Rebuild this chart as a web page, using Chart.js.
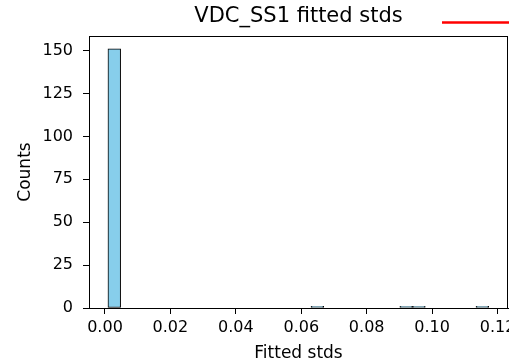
<!DOCTYPE html>
<html>
<head>
<meta charset="utf-8">
<script src="https://cdn.jsdelivr.net/npm/chart.js@4/dist/chart.umd.min.js"></script>
<style>
  html, body { margin: 0; padding: 0; background: #fff; }
  #wrap { width: 509px; height: 361px; }
</style>
</head>
<body>
<div id="wrap"><canvas id="c" width="509" height="361"></canvas></div>
<script>
// Histogram data (30 bins)
const binStart = 0.0009;
const binWidth = 0.00388;
const counts = [151, 0, 0, 0, 0, 0, 0, 0, 0, 0,
                0, 0, 0, 0, 0, 0, 1, 0, 0, 0,
                0, 0, 0, 1, 1, 0, 0, 0, 0, 1];
const xTickValues = [0.00, 0.02, 0.04, 0.06, 0.08, 0.10, 0.12];
const yTickValues = [0, 25, 50, 75, 100, 125, 150];
const titleText = 'VDC_SS1 fitted stds';
const xLabel = 'Fitted stds';
const yLabel = 'Counts';

const xMin = -0.00489, xMax = 0.1232;
const yMax = 158.55;

const points = counts.map((c, i) => ({ x: binStart + (i + 0.5) * binWidth, y: c }));

const FONT = 'DejaVu Sans';

const framePlugin = {
  id: 'frame',
  afterDraw(chart) {
    const { ctx, chartArea: a } = chart;
    ctx.save();
    ctx.strokeStyle = '#000';
    ctx.lineWidth = 1;
    ctx.strokeRect(a.left + 0.5, a.top + 0.5, a.right - a.left - 1, a.bottom - a.top);
    // partially visible legend line (legend cut off at the right edge)
    ctx.strokeStyle = 'red';
    ctx.lineWidth = 2.5;
    ctx.beginPath();
    ctx.moveTo(a.right - 66, 22.5);
    ctx.lineTo(chart.width, 22.5);
    ctx.stroke();
    ctx.restore();
  }
};

new Chart(document.getElementById('c'), {
  type: 'bar',
  data: {
    datasets: [{
      label: 'counts',
      data: points,
      backgroundColor: '#87CEEB',
      borderColor: '#000',
      borderWidth: 1,
      borderSkipped: false,
      barPercentage: 1,
      categoryPercentage: 1
    }]
  },
  plugins: [framePlugin],
  options: {
    responsive: false,
    animation: false,
    devicePixelRatio: 1,
    layout: { padding: { left: 0, right: 1, top: 0, bottom: 0 } },
    plugins: {
      legend: { display: false },
      tooltip: { enabled: false },
      title: {
        display: true,
        fullSize: false,
        text: titleText,
        color: '#000',
        font: { family: FONT, size: 21, weight: 'normal' },
        padding: { top: 4, bottom: 6.8 }
      }
    },
    scales: {
      x: {
        type: 'linear',
        min: xMin,
        max: xMax,
        offset: false,
        grid: { display: true, offset: false, drawOnChartArea: false, drawTicks: true, tickLength: 6, tickColor: '#000' },
        border: { display: true, color: '#000' },
        afterBuildTicks(scale) { scale.ticks = xTickValues.map(v => ({ value: v })); },
        ticks: {
          autoSkip: false, maxRotation: 0, minRotation: 0,
          color: '#000', padding: 4,
          font: { family: FONT, size: 16 },
          callback: v => Number(v).toFixed(2)
        },
        title: { display: true, text: xLabel, color: '#000', font: { family: FONT, size: 17 }, padding: { top: 0, bottom: -3 } },
        afterFit(scale) { scale.height = 53; scale.paddingLeft = 0; scale.paddingRight = 0; }
      },
      y: {
        type: 'linear',
        min: 0,
        max: yMax,
        grid: { display: true, offset: false, drawOnChartArea: false, drawTicks: true, tickLength: 6, tickColor: '#000' },
        border: { display: true, color: '#000' },
        afterBuildTicks(scale) { scale.ticks = yTickValues.map(v => ({ value: v })); },
        ticks: {
          autoSkip: false, color: '#000', padding: 10,
          font: { family: FONT, size: 16 }
        },
        title: { display: true, text: yLabel, color: '#000', font: { family: FONT, size: 17 }, padding: { top: 15, bottom: 0 } },
        afterFit(scale) { scale.width = 89; scale.paddingTop = 0; scale.paddingBottom = 0; }
      }
    }
  }
});
</script>
</body>
</html>
